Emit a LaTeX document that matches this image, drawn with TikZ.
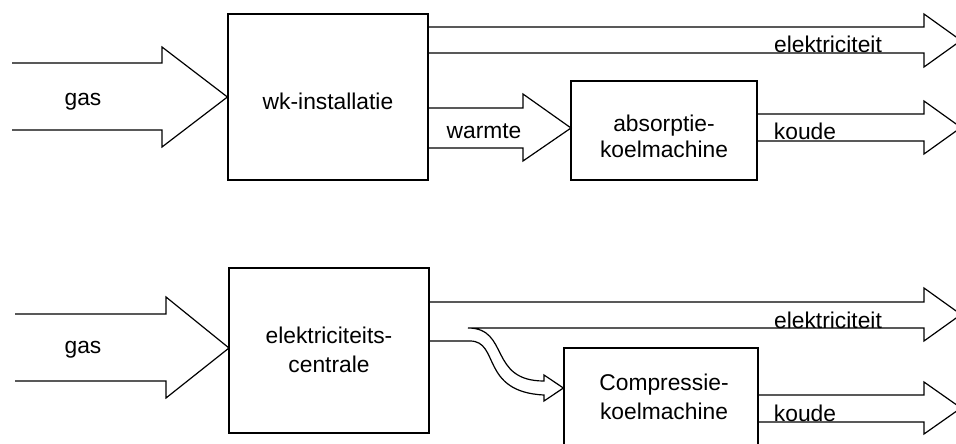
\documentclass[tikz,border=0pt]{standalone}
\usepackage{fontspec}
\setmainfont{Liberation Sans}
\begin{document}
\begin{tikzpicture}[x=1pt,y=-1pt,
  lbl/.style={font=\fontsize{22.8}{27}\selectfont, anchor=base, inner sep=0pt},
  blockbox/.style={draw, line width=1.2pt, inner sep=0pt},
  blk/.style={draw, line width=1.2pt, line join=miter}]
\useasboundingbox (0,0) rectangle (956,444);
% boxes
\node[blockbox, minimum width=200pt, minimum height=166pt] (wk) at (328,97) {};
\node[blockbox, minimum width=186pt, minimum height=99pt] (abs) at (664,130.5) {};
\node[blockbox, minimum width=200pt, minimum height=165pt] (cen) at (329,350.5) {};
\node[blockbox, minimum width=194pt, minimum height=130pt] (comp) at (661,413) {};
% top block arrows
\draw[blk] (12,63) -- (162,63) -- (162,47) -- (wk.west) -- (162,147) -- (162,130) -- (12,130);
\draw[blk] (428,27) -- (924,27) -- (924,14) -- (961,40.5) -- (924,67) -- (924,53) -- (428,53);
\draw[blk] (428,108) -- (523,108) -- (523,94) -- (571,128) -- (523,161) -- (523,148) -- (428,148);
\draw[blk] (757,114) -- (924,114) -- (924,101) -- (961,127.5) -- (924,154) -- (924,141) -- (757,141);
% bottom block arrows
\draw[blk] (15,314) -- (166,314) -- (166,297) -- (229,348) -- (166,398) -- (166,381) -- (15,381);
\draw[blk] (429,302) -- (924,302) -- (924,288) -- (961,314.5) -- (924,341) -- (924,328) -- (468,328)
  .. controls (510,328) and (488,381) .. (544,381) -- (544,375) -- (comp.west |- 0,388) -- (544,401) -- (544,395)
  .. controls (480,392) and (500,341) .. (470,341) -- (429,341);
\draw[blk] (758,395) -- (924,395) -- (924,382) -- (961,408) -- (924,434) -- (924,422) -- (758,422);
% texts
\node[lbl] (t1) at (83,106) {gas};
\node[lbl] (t2) at (328,110) {wk-installatie};
\node[lbl] (t3) at (484,138) {warmte};
\node[lbl] (t4) at (664,131) {absorptie-};
\node[lbl] (t5) at (664,157) {koelmachine};
\node[lbl] (t6) at (805,139) {koude};
\node[lbl] (t7) at (828,53) {elektriciteit};
\node[lbl] (b1) at (83,353) {gas};
\node[lbl] (b2) at (329,343) {elektriciteits-};
\node[lbl] (b3) at (329,372) {centrale};
\node[lbl] (b4) at (828,328) {elektriciteit};
\node[lbl] (b5) at (664,390) {Compressie-};
\node[lbl] (b6) at (664,419) {koelmachine};
\node[lbl] (b7) at (805,421) {koude};
\end{tikzpicture}
\end{document}
